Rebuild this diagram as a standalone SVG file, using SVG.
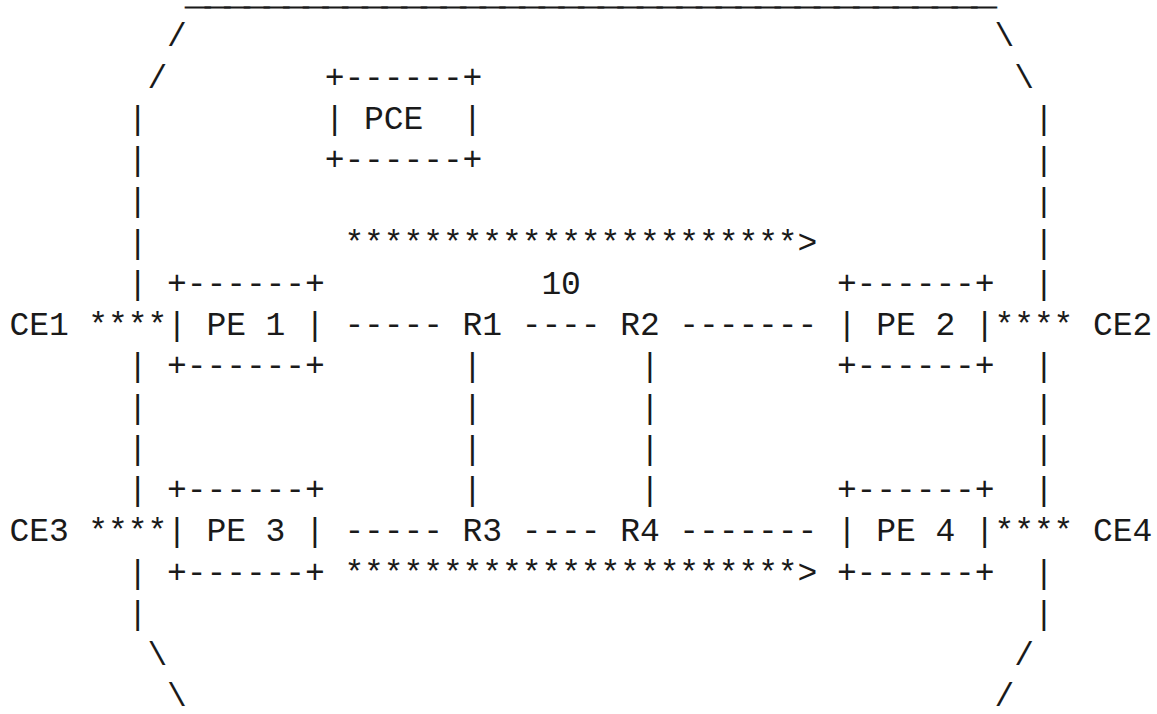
<svg xmlns="http://www.w3.org/2000/svg" width="1157" height="714" viewBox="0 0 1157 714" xml:space="preserve">
<style>
text { font-family: "Liberation Mono", "DejaVu Sans Mono", monospace; font-size: 33px; fill: #1a1a1a; letter-spacing: -0.1px; white-space: pre; }
.top { font-size: 8px; letter-spacing: 0; stroke: #1a1a1a; stroke-width: 1.6px; }
</style>
<rect width="1157" height="714" fill="#ffffff"/>
<g id="cloud">
<text class="top" x="188" y="7" textLength="806" lengthAdjust="spacingAndGlyphs">_________________________________________</text>
<text x="167.1" y="46.25">/</text><text x="994.5" y="46.25">\</text>
<text x="147.4" y="87.5">/</text><text x="1014.2" y="87.5">\</text>
<text x="127.7" y="128.75">|</text><text x="1033.9" y="128.75">|</text>
<text x="127.7" y="170">|</text><text x="1033.9" y="170">|</text>
<text x="127.7" y="211.25">|</text><text x="1033.9" y="211.25">|</text>
<text x="127.7" y="252.5">|</text><text x="1033.9" y="252.5">|</text>
<text x="127.7" y="293.75">|</text><text x="1033.9" y="293.75">|</text>
<text x="127.7" y="376.25">|</text><text x="1033.9" y="376.25">|</text>
<text x="127.7" y="417.5">|</text><text x="1033.9" y="417.5">|</text>
<text x="127.7" y="458.75">|</text><text x="1033.9" y="458.75">|</text>
<text x="127.7" y="500">|</text><text x="1033.9" y="500">|</text>
<text x="127.7" y="582.5">|</text><text x="1033.9" y="582.5">|</text>
<text x="127.7" y="623.75">|</text><text x="1033.9" y="623.75">|</text>
<text x="147.4" y="665">\</text><text x="1014.2" y="665">/</text>
<text x="167.1" y="706.25">\</text><text x="994.5" y="706.25">/</text>
</g>
<g id="PCE">
<text x="324.7" y="87.5">+------+</text>
<text x="324.7" y="128.75">| PCE  |</text>
<text x="324.7" y="170">+------+</text>
</g>
<g id="PE1">
<text x="167.1" y="293.75">+------+</text>
<text x="167.1" y="335">| PE 1 |</text>
<text x="167.1" y="376.25">+------+</text>
</g>
<g id="PE2">
<text x="836.9" y="293.75">+------+</text>
<text x="836.9" y="335">| PE 2 |</text>
<text x="836.9" y="376.25">+------+</text>
</g>
<g id="PE3">
<text x="167.1" y="500">+------+</text>
<text x="167.1" y="541.25">| PE 3 |</text>
<text x="167.1" y="582.5">+------+</text>
</g>
<g id="PE4">
<text x="836.9" y="500">+------+</text>
<text x="836.9" y="541.25">| PE 4 |</text>
<text x="836.9" y="582.5">+------+</text>
</g>
<g id="CE1"><text x="9.5" y="335">CE1</text></g>
<g id="CE2"><text x="1093" y="335">CE2</text></g>
<g id="CE3"><text x="9.5" y="541.25">CE3</text></g>
<g id="CE4"><text x="1093" y="541.25">CE4</text></g>
<g id="R1"><text x="462.6" y="335">R1</text></g>
<g id="R2"><text x="620.2" y="335">R2</text></g>
<g id="R3"><text x="462.6" y="541.25">R3</text></g>
<g id="R4"><text x="620.2" y="541.25">R4</text></g>
<g id="connectors">
<text x="88.3" y="335">****</text>
<text x="344.4" y="335">-----</text>
<text x="521.7" y="335">----</text>
<text x="679.3" y="335">-------</text>
<text x="994.5" y="335">****</text>
<text x="88.3" y="541.25">****</text>
<text x="344.4" y="541.25">-----</text>
<text x="521.7" y="541.25">----</text>
<text x="679.3" y="541.25">-------</text>
<text x="994.5" y="541.25">****</text>
<text x="462.6" y="376.25">|</text><text x="639.9" y="376.25">|</text>
<text x="462.6" y="417.5">|</text><text x="639.9" y="417.5">|</text>
<text x="462.6" y="458.75">|</text><text x="639.9" y="458.75">|</text>
<text x="462.6" y="500">|</text><text x="639.9" y="500">|</text>
<text x="344.4" y="252.5">***********************&gt;</text>
<text x="541.4" y="293.75">10</text>
<text x="344.4" y="582.5">***********************&gt;</text>
</g>
</svg>
